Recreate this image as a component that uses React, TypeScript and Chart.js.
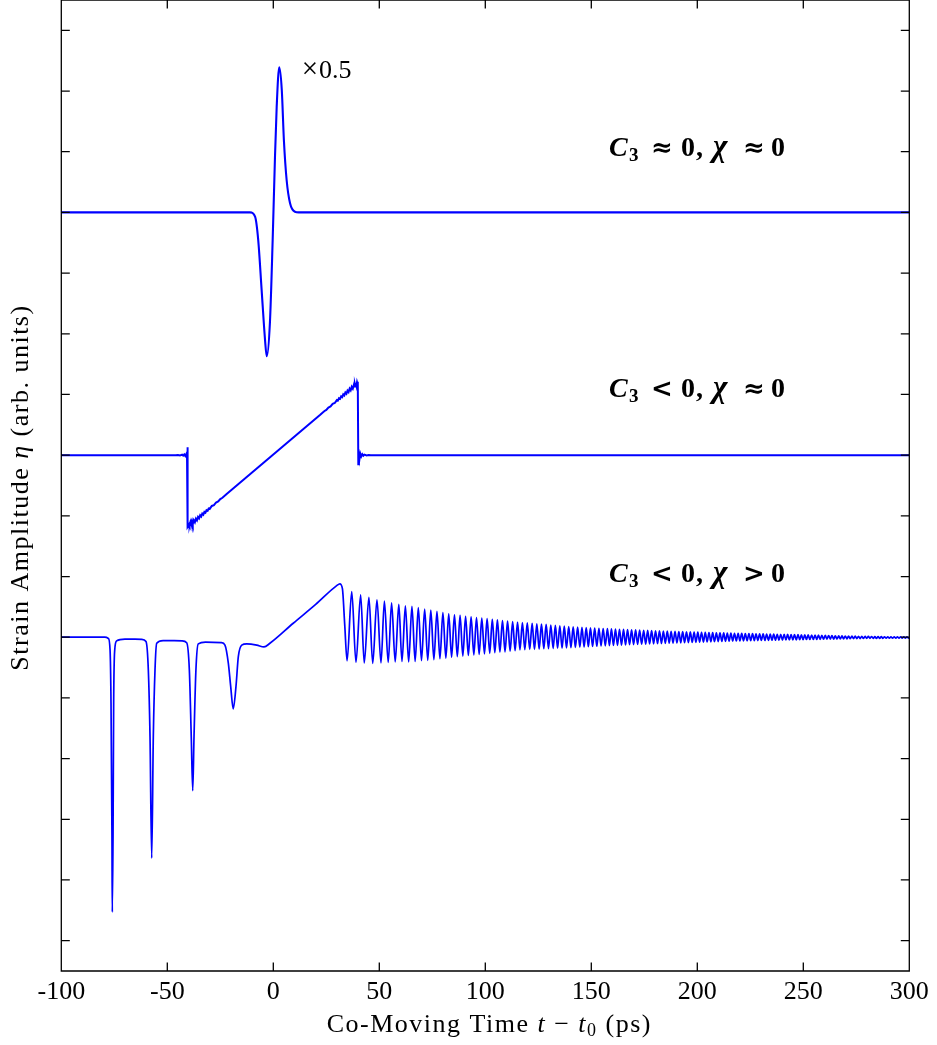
import React, { useEffect, useRef } from 'react';
import { Chart, registerables } from 'chart.js';

Chart.register(...registerables);

const SERIF = '"Liberation Serif", "Times New Roman", Times, serif';
const DSERIF = '"DejaVu Serif", serif';
const BLUE = '#0000ff';

// Axis ticks
const xTickValues = [-100, -50, 0, 50, 100, 150, 200, 250, 300];
const yTickValues = [0, 1, 2, 3, 4, 5, 6, 7, 8, 9, 10, 11, 12, 13, 14, 15];
const X_MIN = -100;
const X_MAX = 300;
const Y_MIN = -0.5;
const Y_MAX = 15.5;

// Trace 1: C3 ≈ 0, χ ≈ 0 (baseline 12, shown ×0.5)
const pulse: number[][] = [
  [-100, 12], [-11, 12], [-8.6, 11.93], [-7.1, 11.54], [-5.5, 10.72], [-3.9, 9.9], [-3.1, 9.63],
  [-1.6, 10.18], [-0.3, 11.54], [0.8, 12.92], [1.6, 13.74], [2.8, 14.39], [4.0, 14.02],
  [5.0, 13.19], [6.3, 12.53], [7.9, 12.15], [10.2, 12.01], [12, 12], [300, 12],
];

// Trace 2: C3 < 0, χ ≈ 0 (baseline 8)
const sawtooth: number[][] = [
  [-100, 8.0], [-46, 8.0], [-45, 8.004], [-44, 7.995], [-43, 8.008], [-42.5, 7.992], [-42, 8.012],
  [-41.5, 7.985], [-41, 8.02], [-40.7, 7.975], [-40.55, 8.13], [-40.3, 6.82],
  [-39.75, 6.862], [-39.5, 6.84], [-39.25, 6.876], [-39.0, 6.832], [-38.75, 6.889], [-38.5, 6.852],
  [-38.25, 6.902], [-38.0, 6.864], [-37.5, 6.927], [-37.0, 6.894],
  [-36.5, 6.954], [-36.0, 6.926], [-35.5, 6.982], [-35.0, 6.958], [-34.5, 7.009], [-34.0, 6.989],
  [-33.5, 7.038], [-33.0, 7.02], [-32.5, 7.065], [-32.0, 7.051], [-31.5, 7.093], [-31.0, 7.083],
  [-30.5, 7.121], [-30.0, 7.114], [-29.0, 7.163], [-28.0, 7.175], [-27.0, 7.22], [-26.0, 7.237],
  [-25.0, 7.277], [-24.0, 7.298], [-22.0, 7.361],
  [22.0, 8.661], [24.0, 8.724], [25.0, 8.745], [26.0, 8.785], [27.0, 8.802], [28.0, 8.846],
  [29.0, 8.859], [30.0, 8.908], [30.5, 8.901], [31.0, 8.939], [31.5, 8.929], [32.0, 8.97],
  [32.5, 8.956], [33.0, 9.002], [33.5, 8.984], [34.0, 9.033], [34.5, 9.012], [35.0, 9.064],
  [35.5, 9.04], [36.0, 9.095], [36.5, 9.067], [37.0, 9.127], [37.5, 9.095], [38.0, 9.158],
  [38.25, 9.13], [38.5, 9.172], [38.75, 9.138], [39.0, 9.189], [39.25, 9.145], [39.5, 9.2],
  [39.75, 9.155], [39.95, 9.21],
  [40.1, 7.85], [40.4, 8.06], [40.7, 7.95], [41.0, 8.03], [41.5, 7.98], [42.0, 8.015],
  [42.5, 7.99], [43.0, 8.008], [44.0, 7.995], [45.0, 8.003], [46.0, 8.0], [300, 8.0],
];

// Trace 3: C3 < 0, χ > 0 (baseline 5) — soliton dips and ramp
const solitons: number[][] = [
  [-100, 5.0], [-79.5, 5.0], [-77.8, 4.98], [-77.0, 4.79], [-76.55, 3.92], [-76.1, 1.71], [-75.95, 0.47],
  [-75.6, 1.71], [-75.3, 3.92], [-74.8, 4.79], [-73.9, 4.94], [-70, 4.97], [-62, 4.965],
  [-60.05, 4.93], [-58.95, 4.46], [-58.15, 3.36], [-57.35, 1.36], [-56.6, 3.36], [-55.8, 4.46],
  [-55.0, 4.9], [-52, 4.945], [-43, 4.94], [-40.85, 4.91], [-39.6, 4.46], [-38.7, 3.36],
  [-38.0, 2.47], [-37.4, 3.36], [-36.5, 4.46], [-35.4, 4.89], [-32, 4.92], [-24.5, 4.91],
  [-22.8, 4.87], [-21.2, 4.57], [-20.1, 4.19], [-18.9, 3.82], [-17.6, 4.19], [-16.5, 4.68],
  [-14.9, 4.87], [-12.5, 4.89], [-7.8, 4.87], [-4.4, 4.84], [-1.6, 4.9], [9.4, 5.23],
  [20, 5.54], [29.9, 5.85], [31.4, 5.88], [32.6, 5.8], [33.7, 5.2],
];

// Trace 3: decaying oscillation extrema
const tailExtrema: number[][] = [
  [34.8, 4.61], [37.0, 5.75], [39.0, 4.585], [41.2, 5.70], [42.9, 4.575], [45.1, 5.655], [46.9, 4.57], [48.9, 5.615],
  [50.8, 4.575], [52.4, 5.595], [54.2, 4.585], [55.8, 5.565], [57.5, 4.595], [59.2, 5.54], [60.7, 4.6], [62.3, 5.515],
  [63.85, 4.595], [65.4, 5.507], [66.9, 4.6], [68.4, 5.49], [69.9, 4.615], [71.4, 5.465], [72.85, 4.62], [74.3, 5.445],
  [75.75, 4.63], [77.2, 5.425], [78.6, 4.645], [80.0, 5.405], [81.4, 4.655], [82.75, 5.385], [84.1, 4.67], [85.45, 5.37],
  [86.8, 4.68], [88.1, 5.36], [89.4, 4.69], [90.7, 5.345], [92.0, 4.7], [93.3, 5.335], [94.6, 4.71], [95.85, 5.325],
  [97.1, 4.715], [98.35, 5.315], [99.6, 4.725], [100.85, 5.305], [102.1, 4.735], [103.3, 5.295], [104.5, 4.745], [105.7, 5.285],
  [106.9, 4.755], [108.1, 5.275], [109.3, 4.76], [110.5, 5.265], [111.7, 4.77], [112.9, 5.257], [114.05, 4.78], [115.2, 5.248],
  [116.35, 4.79], [117.5, 5.24], [118.65, 4.795], [119.8, 5.235], [120.95, 4.8], [122.1, 5.228], [123.2, 4.8], [124.3, 5.222],
  [125.4, 4.805], [126.5, 5.215], [127.6, 4.81], [128.7, 5.21], [129.8, 4.812], [130.9, 5.2], [132.0, 4.815], [133.05, 5.195],
  [134.1, 4.818], [135.15, 5.188], [136.2, 4.82], [137.25, 5.182], [138.3, 4.825], [139.35, 5.177], [140.4, 4.828], [141.45, 5.17],
  [142.5, 4.832], [143.55, 5.166], [144.6, 4.835], [145.6, 5.162], [146.6, 4.839], [147.6, 5.157], [148.6, 4.843], [149.6, 5.153],
  [150.6, 4.847], [151.6, 5.149], [152.6, 4.851], [153.6, 5.146], [154.6, 4.855], [155.6, 5.143], [156.6, 4.858], [157.6, 5.14],
  [158.55, 4.861], [159.5, 5.137], [160.45, 4.864], [161.4, 5.134], [162.35, 4.867], [163.3, 5.131], [164.25, 4.87], [165.2, 5.128],
  [166.15, 4.873], [167.1, 5.125], [168.05, 4.876], [169.0, 5.122], [169.95, 4.879], [170.9, 5.12], [171.85, 4.882], [172.8, 5.117],
  [173.75, 4.884], [174.7, 5.115], [175.65, 4.886], [176.6, 5.112], [177.5, 4.889], [178.45, 5.11], [179.4, 4.891], [180.3, 5.107],
  [181.25, 4.894], [182.15, 5.105], [183.1, 4.896], [184.0, 5.102], [184.9, 4.899], [185.85, 5.1], [186.75, 4.901], [187.65, 5.098],
  [188.55, 4.903], [189.5, 5.096], [190.4, 4.905], [191.3, 5.094], [192.2, 4.907], [193.1, 5.092], [194.0, 4.91], [194.9, 5.09],
  [195.8, 4.912], [196.7, 5.088], [197.6, 4.914], [198.5, 5.086], [199.35, 4.916], [200.25, 5.083], [201.1, 4.918], [202.0, 5.081],
  [202.9, 4.92], [203.75, 5.079], [204.65, 4.922], [205.5, 5.077], [206.4, 4.924], [207.25, 5.075], [208.1, 4.926], [209.0, 5.073],
  [209.85, 4.928], [210.7, 5.071], [211.6, 4.93], [212.45, 5.07], [213.3, 4.932], [214.15, 5.068], [215.0, 4.934], [215.85, 5.066],
  [216.7, 4.936], [217.55, 5.064], [218.4, 4.938], [219.25, 5.063], [220.1, 4.939], [220.95, 5.062], [221.8, 4.94], [222.65, 5.061],
  [223.5, 4.941], [224.35, 5.06], [225.2, 4.942], [226.05, 5.058], [226.9, 4.943], [227.7, 5.057], [228.55, 4.945], [229.4, 5.055],
  [230.2, 4.946], [231.05, 5.054], [231.9, 4.947], [232.7, 5.052], [233.55, 4.949], [234.4, 5.051], [235.2, 4.95], [236.05, 5.05],
  [236.85, 4.951], [237.7, 5.049], [238.5, 4.952], [239.35, 5.048], [240.15, 4.953], [240.95, 5.047], [241.8, 4.954], [242.6, 5.046],
  [243.4, 4.955], [244.25, 5.045], [245.05, 4.956], [245.85, 5.044], [246.7, 4.957], [247.5, 5.043], [248.3, 4.958], [249.1, 5.041],
  [249.9, 4.96], [250.7, 5.039], [251.5, 4.962], [252.3, 5.038], [253.1, 4.963], [253.95, 5.036], [254.75, 4.964], [255.55, 5.035],
  [256.35, 4.965], [257.15, 5.033], [257.95, 4.966], [258.75, 5.032], [259.55, 4.967], [260.35, 5.03], [261.15, 4.968], [261.95, 5.028],
  [262.75, 4.969], [263.5, 5.026], [264.3, 4.97], [265.1, 5.024], [265.9, 4.971], [266.7, 5.022], [267.45, 4.972], [268.25, 5.021],
  [269.0, 4.973], [269.8, 5.02], [270.6, 4.974], [271.35, 5.019], [272.15, 4.975], [272.95, 5.018], [273.7, 4.976], [274.5, 5.017],
  [275.25, 4.977], [276.05, 5.016], [276.8, 4.978], [277.6, 5.015], [278.35, 4.979], [279.15, 5.014], [279.9, 4.98], [280.7, 5.013],
  [281.45, 4.98], [282.2, 5.012], [283.0, 4.981], [283.75, 5.011], [284.5, 4.981], [285.3, 5.01], [286.05, 4.982], [286.8, 5.009],
  [287.55, 4.982], [288.3, 5.008], [289.1, 4.983], [289.85, 5.007], [290.6, 4.983], [291.35, 5.007], [292.1, 4.984], [292.9, 5.006],
  [293.65, 4.984], [294.4, 5.006], [295.15, 4.985], [295.9, 5.005], [296.65, 4.985], [297.4, 5.005], [298.15, 4.986], [298.9, 5.005],
  [299.65, 4.986], [300.0, 4.995],
];

// Text
type Seg = { t: string; f: string; dx?: number; dy?: number; ox?: number };
const R26 = `26px ${SERIF}`;
const I26 = `italic 26px ${SERIF}`;
const R18 = `18px ${SERIF}`;
const R29 = `29px ${SERIF}`;
const BI = `bold italic 28px ${SERIF}`;
const BIX = `bold italic 31px ${SERIF}`;
const B = `bold 28px ${SERIF}`;
const BS = `bold 19px ${SERIF}`;
const REL = `bold 26px ${DSERIF}`;

const scaleNote: Seg[] = [{ t: '×', f: R29 }, { t: '0.5', f: R26, dx: 1 }];
const makeLabel = (rel1: string, rel2: string): Seg[] => [
  { t: 'C', f: BI, ox: 0 },
  { t: '3', f: BS, ox: 20, dy: 5 },
  { t: rel1, f: REL, ox: 42 },
  { t: '0', f: B, ox: 72 },
  { t: ',', f: B, ox: 87 },
  { t: 'χ', f: BIX, ox: 104 },
  { t: rel2, f: REL, ox: 134 },
  { t: '0', f: B, ox: 162 },
];
const label1 = makeLabel('≈', '≈');
const label2 = makeLabel('<', '≈');
const label3 = makeLabel('<', '>');
const xTitle: Seg[] = [
  { t: 'Co-Moving Time ', f: R26 }, { t: 't', f: I26 }, { t: ' − ', f: R26 }, { t: 't', f: I26 },
  { t: '0', f: R18, dy: 4 }, { t: ' (ps)', f: R26 },
];
const yTitle: Seg[] = [
  { t: 'Strain Amplitude ', f: R26 }, { t: 'η', f: I26 }, { t: ' (arb. units)', f: R26 },
];

// annotation anchors in data coordinates (left edge, baseline)
const annotations: { x: number; y: number; segs: Seg[] }[] = [
  { x: 13.4, y: 14.21, segs: scaleNote },
  { x: 158.3, y: 12.93, segs: label1 },
  { x: 158.3, y: 8.96, segs: label2 },
  { x: 158.3, y: 5.91, segs: label3 },
];

function drawSegs(ctx: CanvasRenderingContext2D, segs: Seg[], x: number, y: number, center: boolean, spacing: number) {
  const anyCtx = ctx as any;
  if ('letterSpacing' in anyCtx) anyCtx.letterSpacing = spacing + 'px';
  const widths = segs.map((s) => {
    ctx.font = s.f;
    return ctx.measureText(s.t).width;
  });
  const total = widths.reduce((a, b, i) => a + b + (segs[i].dx || 0), 0);
  const start = center ? x - total / 2 : x;
  let cx = start;
  segs.forEach((s, i) => {
    ctx.font = s.f;
    if (s.ox !== undefined) cx = start + s.ox;
    else cx += s.dx || 0;
    ctx.fillText(s.t, cx, y + (s.dy || 0));
    cx += widths[i];
  });
  if ('letterSpacing' in anyCtx) anyCtx.letterSpacing = '0px';
}

const framePlugin = {
  id: 'frameTicks',
  afterDatasetsDraw(chart: any) {
    const { ctx, chartArea: a, scales } = chart;
    const xs = scales.x;
    const ys = scales.y;
    const L = 8.5;
    ctx.save();
    ctx.strokeStyle = '#000';
    ctx.lineWidth = 1.3;
    ctx.beginPath();
    ctx.rect(a.left, a.top, a.right - a.left, a.bottom - a.top);
    xTickValues.forEach((v) => {
      const p = xs.getPixelForValue(v);
      ctx.moveTo(p, a.bottom);
      ctx.lineTo(p, a.bottom - L);
      ctx.moveTo(p, a.top);
      ctx.lineTo(p, a.top + L);
    });
    yTickValues.forEach((v) => {
      const p = ys.getPixelForValue(v);
      ctx.moveTo(a.left, p);
      ctx.lineTo(a.left + L, p);
      ctx.moveTo(a.right, p);
      ctx.lineTo(a.right - L, p);
    });
    ctx.stroke();
    ctx.restore();
  },
};

const textPlugin = {
  id: 'texts',
  afterDraw(chart: any) {
    const { ctx, chartArea: a, scales } = chart;
    ctx.save();
    ctx.fillStyle = '#000';
    ctx.textBaseline = 'alphabetic';
    ctx.textAlign = 'left';
    annotations.forEach((an) => {
      drawSegs(ctx, an.segs, scales.x.getPixelForValue(an.x), scales.y.getPixelForValue(an.y), false, 0);
    });
    // x title
    drawSegs(ctx, xTitle, (a.left + a.right) / 2 + 4, chart.height - 13, true, 1.5);
    // y title
    ctx.save();
    ctx.translate(28, (a.top + a.bottom) / 2 + 2);
    ctx.rotate(-Math.PI / 2);
    drawSegs(ctx, yTitle, 0, 0, true, 1.5);
    ctx.restore();
    ctx.restore();
  },
};

const toPts = (arr: number[][]) => arr.map(([x, y]) => ({ x, y }));

export default function App() {
  const ref = useRef<HTMLCanvasElement>(null);
  useEffect(() => {
    if (!ref.current) return;
    const chart = new Chart(ref.current, {
      type: 'line',
      data: {
        datasets: [
          {
            data: toPts(pulse),
            borderColor: BLUE,
            borderWidth: 2.1,
            pointRadius: 0,
            cubicInterpolationMode: 'monotone',
            fill: false,
          },
          {
            data: toPts(sawtooth),
            borderColor: BLUE,
            borderWidth: 2.0,
            pointRadius: 0,
            tension: 0,
            fill: false,
          },
          {
            data: toPts([...solitons, ...tailExtrema]),
            borderColor: BLUE,
            borderWidth: 1.7,
            pointRadius: 0,
            cubicInterpolationMode: 'monotone',
            fill: false,
          },
        ],
      },
      options: {
        animation: false,
        responsive: false,
        devicePixelRatio: 1,
        layout: { padding: { left: 61.3, right: 27.7, top: 0, bottom: 0 } },
        plugins: { legend: { display: false }, tooltip: { enabled: false } },
        scales: {
          x: {
            type: 'linear',
            min: X_MIN,
            max: X_MAX,
            grid: { display: false, drawTicks: false },
            border: { display: false },
            ticks: {
              color: '#000',
              font: { family: SERIF, size: 26 },
              padding: 6,
              maxRotation: 0,
              autoSkip: false,
            },
            afterBuildTicks: (s: any) => {
              s.ticks = xTickValues.map((v) => ({ value: v }));
            },
            afterFit: (s: any) => {
              s.height = 74;
            },
          },
          y: {
            type: 'linear',
            display: false,
            min: Y_MIN,
            max: Y_MAX,
          },
        },
      } as any,
      plugins: [framePlugin, textPlugin],
    });
    return () => chart.destroy();
  }, []);
  return (
    <div style={{ position: 'absolute', left: 0, top: 0, width: 937, height: 1045, background: '#fff' }}>
      <canvas ref={ref} width={937} height={1045} style={{ display: 'block' }} />
    </div>
  );
}
